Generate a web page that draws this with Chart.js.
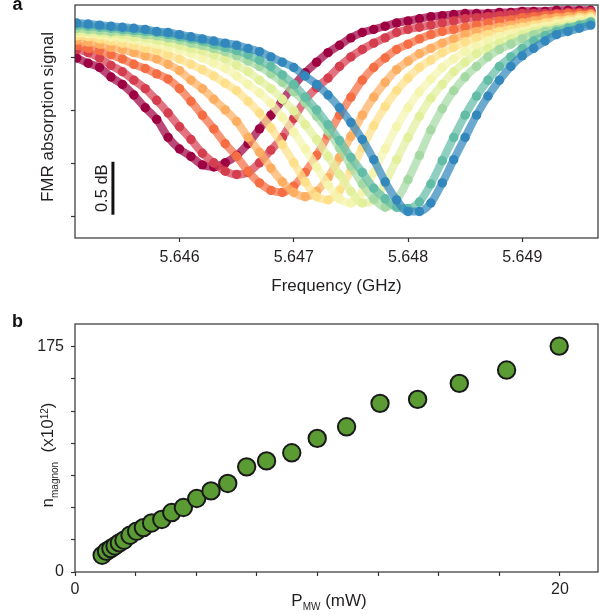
<!DOCTYPE html>
<html>
<head>
<meta charset="utf-8">
<script src="https://cdn.jsdelivr.net/npm/chart.js@4/dist/chart.umd.min.js"></script>
<style>
  body { margin: 0; background: #fff; overflow: hidden; }
  #wrapA { position: absolute; left: 0; top: 0; width: 599px; height: 300px; }
  #wrapB { position: absolute; left: 0; top: 300px; width: 599px; height: 315px; }
</style>
</head>
<body>
<div id="wrapA"><canvas id="fmrChart"></canvas></div>
<div id="wrapB"><canvas id="magnonChart"></canvas></div>
<script>
// ---- panel a: FMR traces, one point every 0.1 MHz ----
const freqGHz = [5.6451, 5.6452, 5.6453, 5.6454, 5.6455, 5.6456, 5.6457, 5.6458, 5.6459, 5.6460,
                 5.6461, 5.6462, 5.6463, 5.6464, 5.6465, 5.6466, 5.6467, 5.6468, 5.6469, 5.6470,
                 5.6471, 5.6472, 5.6473, 5.6474, 5.6475, 5.6476, 5.6477, 5.6478, 5.6479, 5.6480,
                 5.6481, 5.6482, 5.6483, 5.6484, 5.6485, 5.6486, 5.6487, 5.6488, 5.6489, 5.6490,
                 5.6491, 5.6492, 5.6493, 5.6494, 5.6495, 5.6496];

// signal in dB (relative)
const darkRed = [-0.50,-0.55,-0.59,-0.68,-0.75,-0.85,-0.97,-1.08,-1.25,-1.36,-1.43,-1.51,-1.53,-1.49,-1.42,-1.31,-1.17,-1.04,-0.90,-0.76,-0.64,-0.54,-0.45,-0.38,-0.31,-0.26,-0.23,-0.20,-0.17,-0.15,-0.13,-0.11,-0.10,-0.09,-0.08,-0.08,-0.08,-0.07,-0.07,-0.06,-0.06,-0.06,-0.05,-0.05,-0.05,-0.05];
const red = [-0.42,-0.45,-0.50,-0.57,-0.63,-0.71,-0.79,-0.90,-1.02,-1.15,-1.27,-1.40,-1.49,-1.57,-1.60,-1.58,-1.49,-1.37,-1.25,-1.07,-0.90,-0.78,-0.69,-0.58,-0.49,-0.42,-0.36,-0.31,-0.26,-0.23,-0.21,-0.19,-0.17,-0.15,-0.13,-0.12,-0.11,-0.10,-0.09,-0.08,-0.08,-0.08,-0.08,-0.07,-0.07,-0.06];
const orange = [-0.38,-0.41,-0.43,-0.47,-0.51,-0.56,-0.60,-0.65,-0.70,-0.79,-0.91,-1.04,-1.17,-1.31,-1.43,-1.57,-1.68,-1.75,-1.77,-1.71,-1.58,-1.42,-1.23,-1.04,-0.87,-0.71,-0.59,-0.50,-0.42,-0.37,-0.32,-0.28,-0.25,-0.23,-0.21,-0.19,-0.17,-0.15,-0.14,-0.12,-0.11,-0.10,-0.09,-0.08,-0.08,-0.08];
const lightOrange = [-0.33,-0.35,-0.37,-0.40,-0.42,-0.45,-0.48,-0.51,-0.56,-0.62,-0.71,-0.79,-0.89,-0.99,-1.10,-1.25,-1.39,-1.54,-1.67,-1.77,-1.81,-1.76,-1.63,-1.44,-1.24,-1.04,-0.87,-0.73,-0.61,-0.53,-0.46,-0.41,-0.36,-0.32,-0.28,-0.25,-0.23,-0.21,-0.19,-0.17,-0.15,-0.13,-0.12,-0.11,-0.10,-0.09];
const yellow = [-0.29,-0.30,-0.32,-0.34,-0.36,-0.38,-0.41,-0.43,-0.47,-0.51,-0.56,-0.61,-0.67,-0.74,-0.81,-0.91,-1.02,-1.16,-1.32,-1.49,-1.67,-1.81,-1.84,-1.75,-1.56,-1.35,-1.14,-0.96,-0.81,-0.69,-0.59,-0.52,-0.45,-0.40,-0.35,-0.31,-0.28,-0.25,-0.23,-0.21,-0.19,-0.17,-0.15,-0.14,-0.12,-0.11];
const paleYellow = [-0.26,-0.27,-0.28,-0.30,-0.31,-0.33,-0.35,-0.37,-0.40,-0.42,-0.46,-0.50,-0.55,-0.60,-0.67,-0.75,-0.83,-0.93,-1.06,-1.20,-1.36,-1.53,-1.70,-1.83,-1.87,-1.77,-1.58,-1.36,-1.15,-0.97,-0.82,-0.70,-0.59,-0.51,-0.44,-0.39,-0.34,-0.30,-0.27,-0.25,-0.22,-0.20,-0.18,-0.16,-0.14,-0.13];
const yellowGreen = [-0.25,-0.25,-0.26,-0.27,-0.28,-0.30,-0.31,-0.33,-0.35,-0.38,-0.41,-0.43,-0.47,-0.51,-0.57,-0.63,-0.71,-0.79,-0.89,-1.00,-1.13,-1.27,-1.43,-1.60,-1.76,-1.87,-1.84,-1.68,-1.46,-1.25,-1.05,-0.88,-0.75,-0.63,-0.54,-0.46,-0.41,-0.36,-0.32,-0.28,-0.25,-0.23,-0.21,-0.19,-0.17,-0.15];
const green = [-0.22,-0.23,-0.24,-0.25,-0.25,-0.26,-0.28,-0.29,-0.31,-0.33,-0.36,-0.38,-0.41,-0.44,-0.48,-0.53,-0.58,-0.65,-0.73,-0.82,-0.92,-1.05,-1.19,-1.35,-1.52,-1.69,-1.83,-1.91,-1.84,-1.65,-1.42,-1.18,-0.98,-0.81,-0.68,-0.58,-0.49,-0.42,-0.37,-0.32,-0.28,-0.25,-0.23,-0.21,-0.19,-0.17];
const teal = [-0.19,-0.20,-0.21,-0.22,-0.23,-0.24,-0.25,-0.26,-0.28,-0.30,-0.32,-0.34,-0.37,-0.40,-0.43,-0.47,-0.52,-0.58,-0.66,-0.75,-0.87,-0.99,-1.13,-1.28,-1.44,-1.58,-1.73,-1.83,-1.91,-1.92,-1.86,-1.69,-1.47,-1.25,-1.04,-0.86,-0.71,-0.58,-0.49,-0.41,-0.34,-0.29,-0.25,-0.22,-0.19,-0.16];
const blue = [-0.17,-0.18,-0.19,-0.20,-0.21,-0.22,-0.23,-0.25,-0.26,-0.28,-0.30,-0.32,-0.34,-0.36,-0.38,-0.41,-0.44,-0.49,-0.54,-0.59,-0.67,-0.75,-0.85,-0.97,-1.11,-1.27,-1.46,-1.67,-1.84,-1.95,-1.95,-1.87,-1.68,-1.46,-1.25,-1.04,-0.86,-0.71,-0.58,-0.48,-0.41,-0.34,-0.28,-0.25,-0.22,-0.19];

const fmrSeries = [darkRed, red, orange, lightOrange, yellow, paleYellow, yellowGreen, green, teal, blue];
const freqTicks = [5.646, 5.647, 5.648, 5.649];
const dbTicks = [-2, -1.5, -1, -0.5];
const scaleBarDb = 0.5;

// ---- panel b: magnon number vs microwave power ----
const powerMW = [1.12, 1.30, 1.48, 1.65, 1.83, 2.02, 2.27, 2.54, 2.82, 3.16, 3.58, 3.99, 4.47,
                 5.02, 5.61, 6.30, 7.08, 7.90, 8.94, 9.99, 11.2, 12.58, 14.13, 15.85, 17.8, 19.97];
const nMagnon = [13.0, 16.1, 18.2, 20.2, 22.6, 24.7, 28.6, 31.7, 34.5, 38.1, 40.8, 46.2, 50.1,
                 57.1, 63.0, 68.8, 81.7, 86.3, 92.6, 103.8, 112.8, 131.0, 134.1, 146.5, 156.9, 175.5];
const powerTicks = [0, 2.5, 5, 7.5, 10, 12.5, 15, 17.5, 20];
const powerLabels = [0, 20];
const magnonTicks = [0, 25, 50, 75, 100, 125, 150, 175];
const magnonLabels = [0, 175];

// styles
const palette = ['#9e0142', '#d53e4f', '#f46d43', '#fdae61', '#fee08b', '#f5f5b0', '#e2f09c', '#a5d9a4', '#62bca6', '#3288bd'];
const textColor = '#231f20';
const axisColor = '#333333';
const family = '"Liberation Sans", Arial, Helvetica, sans-serif';
const tickFont = { family: family, size: 16 };

function withAlpha(hex, a) {
    const n = parseInt(hex.slice(1), 16);
    return 'rgba(' + (n >> 16) + ',' + ((n >> 8) & 255) + ',' + (n & 255) + ',' + a + ')';
}

// text made of pieces (for sub/superscripts), centred on x,y
function drawRich(ctx, parts, x, y, rotate) {
    ctx.save();
    ctx.translate(x, y);
    if (rotate) ctx.rotate(-Math.PI / 2);
    let total = 0;
    parts.forEach(p => {
        ctx.font = p.size + 'px ' + family;
        p.w = ctx.measureText(p.t).width;
        total += p.w;
    });
    let cx = -total / 2;
    ctx.fillStyle = textColor;
    ctx.textBaseline = 'alphabetic';
    ctx.textAlign = 'left';
    parts.forEach(p => {
        ctx.font = p.size + 'px ' + family;
        ctx.fillText(p.t, cx, p.dy);
        cx += p.w;
    });
    ctx.restore();
}

function frame(chart) {
    const { ctx, chartArea: a } = chart;
    ctx.save();
    ctx.strokeStyle = axisColor;
    ctx.lineWidth = 1.2;
    ctx.strokeRect(a.left, a.top, a.right - a.left, a.bottom - a.top);
    ctx.restore();
}

function tickGrid() {
    return { drawOnChartArea: false, drawTicks: true, tickLength: 4, tickColor: axisColor, tickWidth: 1.2 };
}

// no extra room for half tick labels at the ends of the axes
function fixX(h) {
    return s => { s.height = h; s.paddingLeft = 0; s.paddingRight = 0; };
}
function fixY(w) {
    return s => { s.width = w; s.paddingTop = 0; s.paddingBottom = 0; };
}

// Panel a datasets: thick translucent fit line + dots, blue drawn on top
let fmrDatasets = [];
fmrSeries.forEach((vals, i) => {
    const pts = freqGHz.map((f, k) => ({ x: f, y: vals[k] }));
    const rank = fmrSeries.length - 1 - i;
    fmrDatasets.push({
        data: pts,
        borderColor: withAlpha(palette[i], 0.72),
        borderWidth: 8,
        pointRadius: 0,
        fill: false,
        cubicInterpolationMode: 'monotone',
        clip: 0,
        order: rank * 2 + 1
    });
    fmrDatasets.push({
        data: pts,
        showLine: false,
        pointRadius: 4.7,
        pointBackgroundColor: palette[i],
        pointBorderWidth: 0,
        clip: 0,
        order: rank * 2
    });
});

const fmrDecor = {
    id: 'fmrDecor',
    afterDatasetsDraw(chart) {
        const { ctx, chartArea: a, scales } = chart;
        frame(chart);
        // 0.5 dB scale bar
        const bx = scales.x.getPixelForValue(5.645417);
        const y1 = scales.y.getPixelForValue(-1.48);
        const y2 = scales.y.getPixelForValue(-1.48 - scaleBarDb);
        ctx.save();
        ctx.strokeStyle = '#111';
        ctx.lineWidth = 3;
        ctx.beginPath();
        ctx.moveTo(bx, y1);
        ctx.lineTo(bx, y2);
        ctx.stroke();
        ctx.restore();
        drawRich(ctx, [{ t: scaleBarDb + ' dB', size: 16.5, dy: 6 }], bx - 12, (y1 + y2) / 2, true);
        // axis titles
        drawRich(ctx, [{ t: 'FMR absorption signal', size: 17, dy: 6 }], 47, 117, true);
        drawRich(ctx, [{ t: 'Frequency (GHz)', size: 17, dy: 6 }], (a.left + a.right) / 2, 285, false);
        // panel letter
        ctx.save();
        ctx.fillStyle = '#111';
        ctx.font = 'bold 18px ' + family;
        ctx.fillText('a', 12.5, 10);
        ctx.restore();
    }
};

new Chart(document.getElementById('fmrChart'), {
    type: 'line',
    data: { datasets: fmrDatasets },
    options: {
        responsive: true,
        maintainAspectRatio: false,
        animation: false,
        layout: { autoPadding: false, padding: { top: 5, right: 1, left: 0, bottom: 0 } },
        plugins: { legend: { display: false }, tooltip: { enabled: false } },
        scales: {
            x: {
                type: 'linear',
                min: 5.645085,
                max: 5.649663,
                afterBuildTicks: s => { s.ticks = freqTicks.map(v => ({ value: v })); },
                afterFit: fixX(62),
                ticks: { callback: v => v.toFixed(3), font: tickFont, color: textColor, padding: 6, maxRotation: 0, autoSkip: false },
                grid: tickGrid(),
                border: { display: false }
            },
            y: {
                min: -2.2,
                max: 0,
                afterBuildTicks: s => { s.ticks = dbTicks.map(v => ({ value: v })); },
                afterFit: fixY(75),
                ticks: { callback: () => '', font: tickFont },
                grid: tickGrid(),
                border: { display: false }
            }
        }
    },
    plugins: [fmrDecor]
});

// Panel b
const magnonDecor = {
    id: 'magnonDecor',
    afterDatasetsDraw(chart) {
        const { ctx } = chart;
        frame(chart);
        drawRich(ctx, [
            { t: 'P', size: 17, dy: 6 },
            { t: 'MW', size: 10, dy: 10 },
            { t: ' (mW)', size: 17, dy: 6 }
        ], 329, 300, false);
        drawRich(ctx, [
            { t: 'n', size: 17, dy: 5 },
            { t: 'magnon', size: 10, dy: 10 },
            { t: '  (x10', size: 17, dy: 5 },
            { t: '12', size: 10, dy: 0 },
            { t: ')', size: 17, dy: 5 }
        ], 48, 155, true);
        ctx.save();
        ctx.fillStyle = '#111';
        ctx.font = 'bold 18px ' + family;
        ctx.fillText('b', 12, 27);
        ctx.restore();
    }
};

new Chart(document.getElementById('magnonChart'), {
    type: 'scatter',
    data: {
        datasets: [{
            data: powerMW.map((p, k) => ({ x: p, y: nMagnon[k] })),
            pointRadius: 8.7,
            pointBackgroundColor: '#5b9b34',
            pointBorderColor: '#1a1a1a',
            pointBorderWidth: 2,
            clip: false
        }]
    },
    options: {
        responsive: true,
        maintainAspectRatio: false,
        animation: false,
        layout: { autoPadding: false, padding: { top: 24, right: 1, left: 0, bottom: 0 } },
        plugins: { legend: { display: false }, tooltip: { enabled: false } },
        scales: {
            x: {
                type: 'linear',
                min: 0,
                max: 21.57,
                afterBuildTicks: s => { s.ticks = powerTicks.map(v => ({ value: v })); },
                afterFit: fixX(43),
                ticks: { callback: v => powerLabels.includes(v) ? String(v) : '', font: tickFont, color: textColor, padding: 4, maxRotation: 0, autoSkip: false },
                grid: tickGrid(),
                border: { display: false }
            },
            y: {
                min: 0,
                max: 192.66,
                afterBuildTicks: s => { s.ticks = magnonTicks.map(v => ({ value: v })); },
                afterFit: fixY(75),
                ticks: { callback: v => magnonLabels.includes(v) ? String(v) : '', font: tickFont, color: textColor, padding: 7, autoSkip: false },
                grid: tickGrid(),
                border: { display: false }
            }
        }
    },
    plugins: [magnonDecor]
});
</script>
</body>
</html>
